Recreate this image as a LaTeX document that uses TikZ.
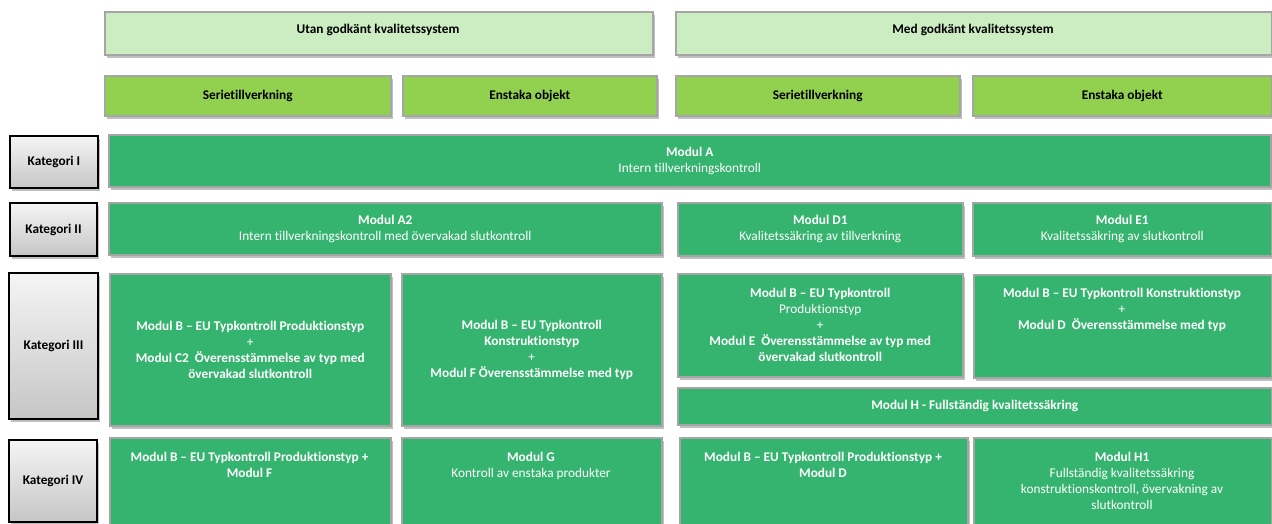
\documentclass[tikz,border=0pt]{standalone}
\usepackage{fontspec}
\setmainfont{Carlito}[Ligatures={NoCommon}]
\usetikzlibrary{shadows}
\definecolor{hdr}{RGB}{204,236,193}
\definecolor{limeg}{RGB}{146,208,80}
\definecolor{modg}{RGB}{53,180,111}
\definecolor{bord}{RGB}{165,165,165}
\newcommand\myfs{\fontsize{13.3}{16}\selectfont}
\tikzset{
  basebox/.style={draw=bord, line width=1.5pt, inner sep=0pt, anchor=north west, align=center,
    font=\myfs,
    drop shadow={shadow xshift=2pt, shadow yshift=-3pt, opacity=0.25, fill=black}},
  hdrbox/.style={basebox, fill=hdr, font=\myfs\bfseries},
  limebox/.style={basebox, fill=limeg, font=\myfs\bfseries},
  modbox/.style={basebox, fill=modg, text=white},
  katbox/.style={draw=black, line width=2pt, inner sep=0pt, anchor=north west, align=center,
    top color=gray!8, bottom color=gray!45, font=\myfs\bfseries,
    drop shadow={shadow xshift=2pt, shadow yshift=-3pt, opacity=0.25, fill=black}},
  toptext/.style={anchor=north, inner sep=0pt, align=center, text=white, font=\myfs},
}
\begin{document}
\begin{tikzpicture}[x=1pt,y=-1pt]
\useasboundingbox (0,0) rectangle (1272,523);
% headers
\node[hdrbox, minimum width=548pt, minimum height=43pt] (utan) at (104,11) {};
\node[anchor=center, inner sep=0pt, font=\myfs\bfseries] (tutan) at (378,30) {Utan godkänt kvalitetssystem};
\node[hdrbox, minimum width=596pt, minimum height=43pt] (med) at (675,11) {};
\node[anchor=center, inner sep=0pt, font=\myfs\bfseries] (tmed) at (973,30) {Med godkänt kvalitetssystem};
\node[limebox, minimum width=286pt, minimum height=40pt] (s1) at (104,75) {Serietillverkning};
\node[limebox, minimum width=254pt, minimum height=40pt] (en1) at (402,75) {Enstaka objekt};
\node[limebox, minimum width=284pt, minimum height=40pt] (s2) at (675,75) {Serietillverkning};
\node[limebox, minimum width=299pt, minimum height=40pt] (en2) at (972,75) {Enstaka objekt};
% Kategori I
\node[katbox, minimum width=88pt, minimum height=52pt] (k1) at (9,135) {Kategori I};
\node[modbox, minimum width=1162pt, minimum height=52pt] (ma) at (108,134) {\textbf{Modul A}\\Intern tillverkningskontroll};
% Kategori II
\node[katbox, minimum width=87pt, minimum height=53pt] (k2) at (9,202) {Kategori II};
\node[modbox, minimum width=553pt, minimum height=52pt] (ma2) at (108,202) {\textbf{Modul A2}\\Intern tillverkningskontroll med övervakad slutkontroll};
\node[modbox, minimum width=285pt, minimum height=53pt] (md1) at (677,202) {\textbf{Modul D1}\\Kvalitetssäkring av tillverkning};
\node[modbox, minimum width=299pt, minimum height=53pt] (me1) at (972,202) {\textbf{Modul E1}\\Kvalitetssäkring av slutkontroll};
% Kategori III
\node[katbox, minimum width=89pt, minimum height=146pt] (k3) at (8,272) {Kategori III};
\node[modbox, minimum width=281pt, minimum height=152pt] (b3l) at (109,273) {\textbf{Modul B – EU Typkontroll Produktionstyp}\\+\\\textbf{Modul C2\ \ Överensstämmelse av typ med}\\\textbf{övervakad slutkontroll}};
\node[modbox, minimum width=260pt, minimum height=152pt] (b3m) at (401,273) {\textbf{Modul B – EU Typkontroll}\\\textbf{Konstruktionstyp}\\+\\\textbf{Modul F Överensstämmelse med typ}};
\node[modbox, minimum width=285pt, minimum height=103pt] (d3) at (677,273) {\textbf{Modul B – EU Typkontroll}\\Produktionstyp\\+\\\textbf{Modul E\ \ Överensstämmelse av typ med}\\\textbf{övervakad slutkontroll}};
\node[modbox, minimum width=298pt, minimum height=103pt] (k3r) at (973,274) {};
\node[toptext] (tk3r) at (1122,288) {\textbf{Modul B – EU Typkontroll Konstruktionstyp}\\+\\\textbf{Modul D\ \ Överensstämmelse med typ}};
\node[modbox, minimum width=594pt, minimum height=37pt] (mh) at (677,387) {\textbf{Modul H - Fullständig kvalitetssäkring}};
% Kategori IV
\node[katbox, minimum width=88pt, minimum height=82pt] (k4) at (8,439) {Kategori IV};
\node[modbox, minimum width=281pt, minimum height=90pt] (b4l) at (109,437) {};
\node[toptext] (tb4l) at (249.5,452) {\textbf{Modul B – EU Typkontroll Produktionstyp +}\\\textbf{Modul F}};
\node[modbox, minimum width=260pt, minimum height=90pt] (mg) at (401,437) {};
\node[toptext] (tmg) at (531,452) {\textbf{Modul G}\\Kontroll av enstaka produkter};
\node[modbox, minimum width=288pt, minimum height=90pt] (b4d) at (679,437) {};
\node[toptext] (tb4d) at (823,452) {\textbf{Modul B – EU Typkontroll Produktionstyp +}\\\textbf{Modul D}};
\node[modbox, minimum width=298pt, minimum height=90pt] (mh1) at (973,437) {};
\node[toptext] (tmh1) at (1122,452) {\textbf{Modul H1}\\Fullständig kvalitetssäkring\\konstruktionskontroll, övervakning av\\slutkontroll};
\end{tikzpicture}
\end{document}
